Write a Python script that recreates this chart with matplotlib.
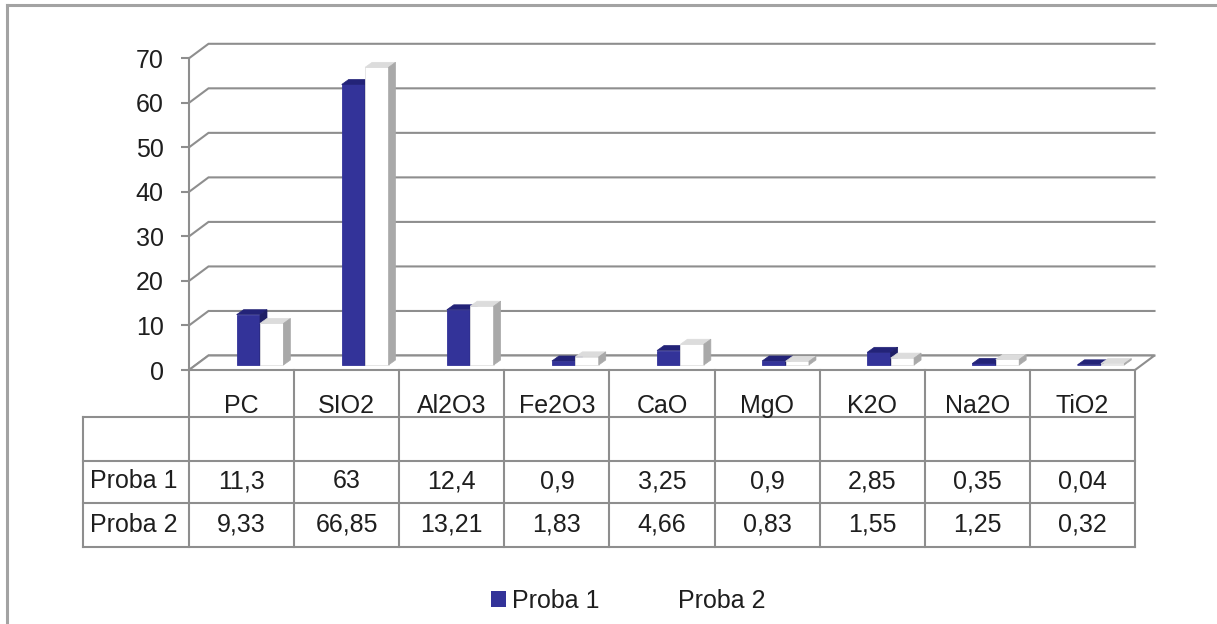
import matplotlib
matplotlib.use("Agg")
import matplotlib.pyplot as plt
from matplotlib.patches import Polygon, Patch
from matplotlib.lines import Line2D

plt.rcParams['font.family'] = ['Liberation Sans', 'DejaVu Sans']

# ---- data ----
categories = ["PC", "SIO2", "Al2O3", "Fe2O3", "CaO", "MgO", "K2O", "Na2O", "TiO2"]
series_names = ["Proba 1", "Proba 2"]
proba1 = [11.3, 63, 12.4, 0.9, 3.25, 0.9, 2.85, 0.35, 0.04]
proba2 = [9.33, 66.85, 13.21, 1.83, 4.66, 0.83, 1.55, 1.25, 0.32]
yticks = [0, 10, 20, 30, 40, 50, 60, 70]

# ---- figure / layout (pixel based) ----
W, H = 1217, 624
fig = plt.figure(figsize=(W / 100, H / 100), dpi=100)
fig.patch.set_facecolor("white")

x_left, x_right = 189, 1135      # front plane of the plot
y_zero, y_top = 370, 58.3        # pixel rows of 0 and 70
ymax = 70
ncat = len(categories)

ax = fig.add_axes([x_left / W, (H - y_zero) / H,
                   (x_right - x_left) / W, (y_zero - y_top) / H])
ax.set_xlim(0, ncat)
ax.set_ylim(0, ymax)
ax.patch.set_alpha(0)

px_x = (x_right - x_left) / ncat      # pixels per category
px_y = (y_zero - y_top) / ymax        # pixels per unit

grid_col = "#8e8e8e"
text_col = "#1e1e1e"

# depth of the wall/floor and of each column
wall_dx, wall_dy = 19.5 / px_x, 14.5 / px_y
bar_dx, bar_dy = 7.0 / px_x, 5.0 / px_y
bar_off, bar_w = 47.6 / px_x, 23.4 / px_x

# floor
floor = Polygon([(0, 0), (ncat, 0), (ncat + wall_dx, wall_dy), (wall_dx, wall_dy)],
                closed=True, facecolor="white", edgecolor=grid_col, lw=1.5,
                zorder=1.5, clip_on=False, joinstyle="miter")
ax.add_patch(floor)

# back-wall gridlines with the slanted side-wall segment
for v in yticks:
    ax.plot([0, wall_dx, ncat + wall_dx], [v, v + wall_dy, v + wall_dy],
            color=grid_col, lw=1.5, zorder=1, clip_on=False,
            solid_joinstyle="miter")

# columns
styles = [
    dict(front="#333399", top="#232378", side="#1f1f66", edge="#333399"),
    dict(front="#ffffff", top="#dcdcdc", side="#a9a9a9", edge="#e2e2e2"),
]
base = bar_dy
for i in range(ncat):
    for s, values in enumerate([proba1, proba2]):
        v = values[i]
        st = styles[s]
        x0 = i + bar_off + s * bar_w
        x1 = x0 + bar_w
        z = 3 + 3 * s
        ax.bar(x0, v, width=bar_w, bottom=base, align="edge",
               color=st["front"], edgecolor=st["edge"], lw=0.6,
               zorder=z, clip_on=False)
        top = base + v
        ax.add_patch(Polygon([(x0, top), (x1, top), (x1 + bar_dx, top + bar_dy),
                              (x0 + bar_dx, top + bar_dy)], closed=True,
                             facecolor=st["top"], edgecolor=st["top"], lw=0.5,
                             zorder=z + 1, clip_on=False))
        ax.add_patch(Polygon([(x1, base), (x1 + bar_dx, base + bar_dy),
                              (x1 + bar_dx, top + bar_dy), (x1, top)], closed=True,
                             facecolor=st["side"], edgecolor=st["side"], lw=0.5,
                             zorder=z + 1, clip_on=False))

# axis styling
for sp in ["top", "right", "bottom"]:
    ax.spines[sp].set_visible(False)
ax.spines["left"].set_color(grid_col)
ax.spines["left"].set_linewidth(1.5)
ax.spines["left"].set_zorder(2)
ax.set_xticks([])
ax.set_yticks(yticks)
ax.set_yticklabels([str(t) for t in yticks])
ax.tick_params(axis="y", length=5.8, width=1.5, color=grid_col, pad=12.5,
               labelsize=18, labelcolor=text_col)

# ---- data table ----
tab_left, tab_bottom = 83, 547
tab = fig.add_axes([tab_left / W, (H - tab_bottom) / H,
                    (x_right - tab_left) / W, (tab_bottom - y_zero) / H])
hdr = -(x_left - tab_left) / px_x
tab.set_xlim(hdr, ncat)
tab.set_ylim(tab_bottom - y_zero, 0)
tab.axis("off")

row_edges = [0, 47, 90.7, 133, 177]
lw_t = 1.5
# horizontal lines
for k, y in enumerate(row_edges):
    if k == 0:
        continue
    tab.plot([hdr, ncat], [y, y], color=grid_col, lw=lw_t, clip_on=False,
             solid_capstyle="projecting")
# vertical lines
for j in range(ncat + 1):
    tab.plot([j, j], [0, row_edges[-1]], color=grid_col, lw=lw_t, clip_on=False,
             solid_capstyle="projecting")
tab.plot([hdr, hdr], [row_edges[1], row_edges[-1]], color=grid_col, lw=lw_t,
         clip_on=False, solid_capstyle="projecting")

def fmt(v):
    return f"{v:g}".replace(".", ",")

header_base, row1_base, row2_base = 42.7, 118.3, 161.7
for j, c in enumerate(categories):
    tab.text(j + 0.5, header_base, c, ha="center", va="baseline",
             fontsize=18, color=text_col)
    tab.text(j + 0.5, row1_base, fmt(proba1[j]), ha="center", va="baseline",
             fontsize=18, color=text_col)
    tab.text(j + 0.5, row2_base, fmt(proba2[j]), ha="center", va="baseline",
             fontsize=18, color=text_col)
tab.text(hdr + 7 / px_x, row1_base, series_names[0], ha="left", va="baseline",
         fontsize=18, color=text_col)
tab.text(hdr + 7 / px_x, row2_base, series_names[1], ha="left", va="baseline",
         fontsize=18, color=text_col)

# ---- legend ----
handles = [Patch(facecolor=styles[0]["front"], edgecolor="none"),
           Patch(facecolor="white", edgecolor="none")]
fig.legend(handles, series_names, loc="center",
           bbox_to_anchor=(628 / W, (H - 601) / H), ncol=2, frameon=False,
           fontsize=18, handlelength=0.59, handleheight=0.59,
           handletextpad=0.25, columnspacing=2.3, borderpad=0,
           borderaxespad=0, labelcolor=text_col)

# ---- chart border ----
border_col = "#a3a3a3"
fig.add_artist(Line2D([7 / W, 7 / W], [0, (H - 5) / H], color=border_col, lw=2.2))
fig.add_artist(Line2D([7 / W, 1], [(H - 5) / H, (H - 5) / H], color=border_col, lw=2.2))

fig.savefig("out.png", dpi=100)
